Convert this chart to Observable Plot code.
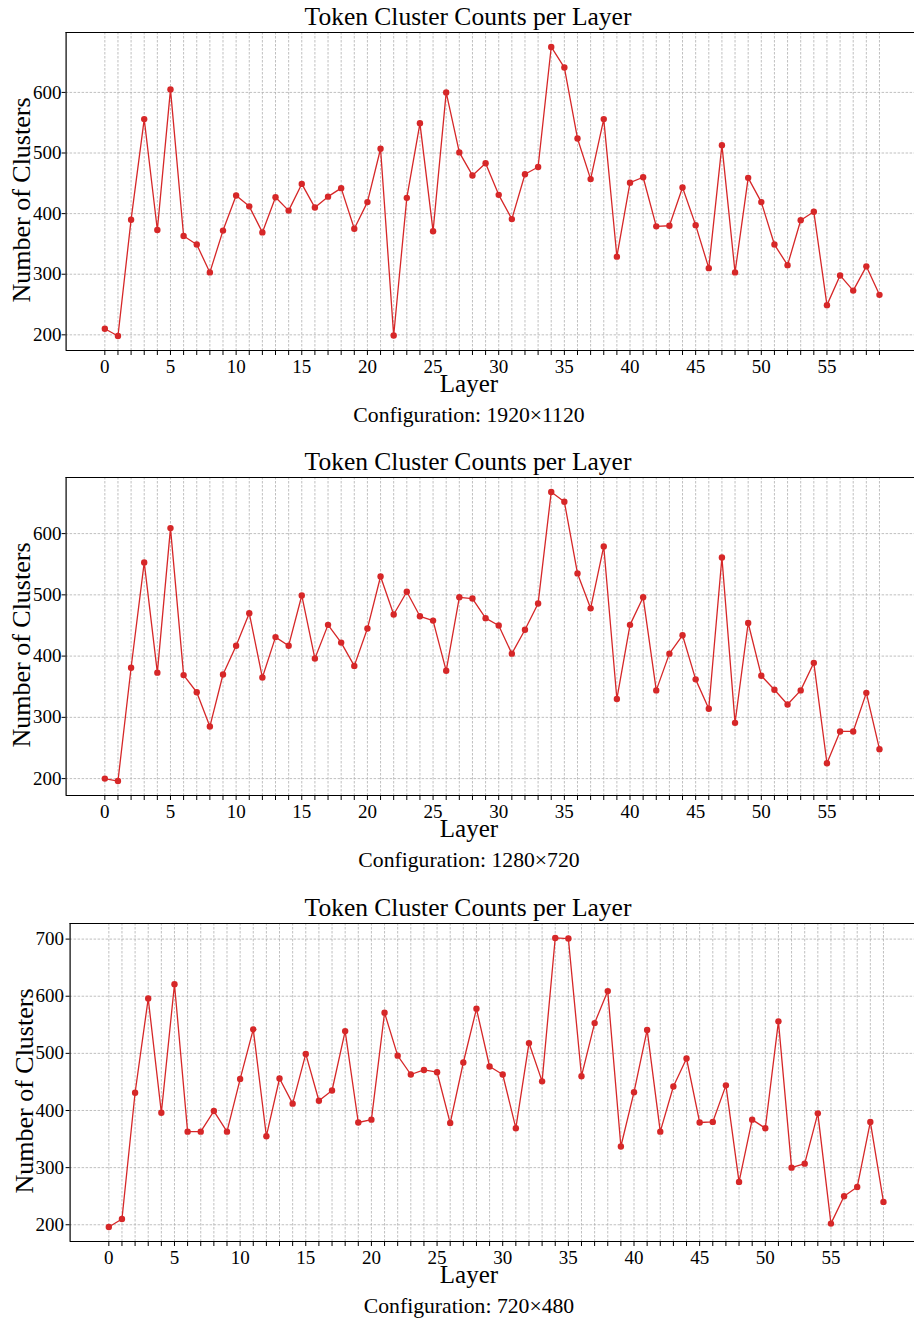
<!DOCTYPE html>
<html>
<head>
<meta charset="utf-8">
<script src="https://cdn.jsdelivr.net/npm/d3@7"></script>
<script src="https://cdn.jsdelivr.net/npm/@observablehq/plot@0.6"></script>
<style>
  body { margin: 0; background: #fff; }
  #root { position: relative; width: 914px; height: 1321px; overflow: hidden; background: #fff; }
  #root svg { position: absolute; left: 0; }
</style>
</head>
<body>
<div id="root"></div>
<script>
// ---------- data ----------
const layers = [0,1,2,3,4,5,6,7,8,9,10,11,12,13,14,15,16,17,18,19,20,21,22,23,24,25,26,27,28,29,
                30,31,32,33,34,35,36,37,38,39,40,41,42,43,44,45,46,47,48,49,50,51,52,53,54,55,56,57,58,59];
const xTickLabels = [0,5,10,15,20,25,30,35,40,45,50,55];

const counts1920 = [210,198,390,556,373,605,363,349,303,372,
                    430,412,369,427,405,449,410,428,442,375,
                    419,507,199,426,549,371,600,501,463,483,
                    431,391,465,477,675,641,524,457,556,329,
                    451,460,379,380,443,381,310,513,303,459,
                    419,349,315,389,403,249,298,273,313,266];
const counts1280 = [200,196,381,553,373,609,369,341,285,370,
                    417,470,365,431,417,499,396,451,422,384,
                    445,530,468,505,465,458,376,496,494,462,
                    450,404,443,486,668,652,535,478,579,330,
                    451,496,344,404,434,362,314,561,291,454,
                    368,345,321,344,389,225,277,277,340,248];
const counts720  = [196,210,431,596,396,621,363,363,399,363,
                    455,542,355,456,412,499,417,435,539,379,
                    384,571,496,463,471,467,378,484,578,477,
                    463,369,518,451,702,701,460,553,609,337,
                    432,541,363,442,491,379,380,444,275,384,
                    369,556,300,307,395,202,250,266,380,240];

const yTicksA = [200,300,400,500,600];
const yTicksB = [200,300,400,500,600,700];

const configs = ["1920×1120", "1280×720", "720×480"];
const chartTitle = "Token Cluster Counts per Layer";
const xLabel = "Layer";
const yLabel = "Number of Clusters";

// ---------- drawing ----------
const FONT = "'Liberation Serif', 'Times New Roman', Times, serif";
const RED = "#d62728";
const root = document.getElementById("root");

function panel({values, yTicks, config, top, height, xRange, yPad, yLabelX}) {
  const data = layers.map((l, i) => ({layer: l, count: values[i]}));
  const lo = d3.min(values), hi = d3.max(values), pad = (hi - lo) * 0.05;
  const yDomain = [lo - pad, hi + pad];
  const xPad = (layers[layers.length - 1] - layers[0]) * 0.05;
  const xDomain = [layers[0] - xPad, layers[layers.length - 1] + xPad];

  const svg = Plot.plot({
    width: 914,
    height: height,
    marginTop: 32,
    marginBottom: height - 350,
    marginLeft: xRange[0],
    marginRight: 0,
    style: {fontFamily: FONT, background: "transparent", color: "black", overflow: "hidden"},
    x: {domain: xDomain, range: xRange},
    y: {domain: yDomain},
    marks: [
      Plot.gridX({ticks: layers, stroke: "#b0b0b0", strokeOpacity: 1, strokeDasharray: "2.5,1.5", strokeWidth: 0.8}),
      Plot.gridY({ticks: yTicks, stroke: "#b0b0b0", strokeOpacity: 1, strokeDasharray: "2.5,1.5", strokeWidth: 0.8}),
      Plot.axisX({ticks: layers, tickFormat: d => xTickLabels.includes(d) ? String(d) : "",
                  tickSize: 5, tickPadding: 3.5, fontSize: 19, fontFamily: FONT, label: null, strokeWidth: 1}),
      Plot.axisY({ticks: yTicks, tickSize: 4, tickPadding: yPad, fontSize: 19, fontFamily: FONT, label: null, strokeWidth: 1}),
      Plot.ruleX([xDomain[0]], {stroke: "black", strokeWidth: 1.2}),
      Plot.ruleY([yDomain[0], yDomain[1]], {stroke: "black", strokeWidth: 1.2}),
      Plot.line(data, {x: "layer", y: "count", stroke: RED, strokeWidth: 1.3}),
      Plot.dot(data, {x: "layer", y: "count", r: 3.2, fill: RED, stroke: "none"})
    ]
  });
  svg.style.top = top + "px";
  const s = d3.select(svg);
  s.selectAll("text")
    .style("font-family", FONT)
    .style("font-variant-numeric", "normal")
    .style("font-size", "19px");
  s.selectAll("g").style("font-family", FONT).style("font-variant", "normal");
  const addText = (x, y, size, str, rot) => {
    const t = s.append("text")
      .attr("x", x).attr("y", y)
      .attr("text-anchor", "middle")
      .style("font-family", FONT)
      .style("font-size", size + "px")
      .attr("fill", "black")
      .text(str);
    if (rot) t.attr("transform", `rotate(-90 ${x} ${y})`);
  };
  addText(468, 25, 25.5, chartTitle);
  addText(469, 392, 25, xLabel);
  addText(469, 422, 21.7, "Configuration: " + config);
  addText(yLabelX, 200, 26, yLabel, true);
  root.appendChild(svg);
}

panel({values: counts1920, yTicks: yTicksA, config: configs[0], top: 0,     height: 445, xRange: [65.6, 917.7], yPad: 0.5, yLabelX: 30});
panel({values: counts1280, yTicks: yTicksA, config: configs[1], top: 445.3, height: 445, xRange: [65.6, 917.7], yPad: 0.5, yLabelX: 30});
panel({values: counts720,  yTicks: yTicksB, config: configs[2], top: 890.6, height: 430, xRange: [69.6, 921.7], yPad: 2,   yLabelX: 33});
</script>
</body>
</html>
